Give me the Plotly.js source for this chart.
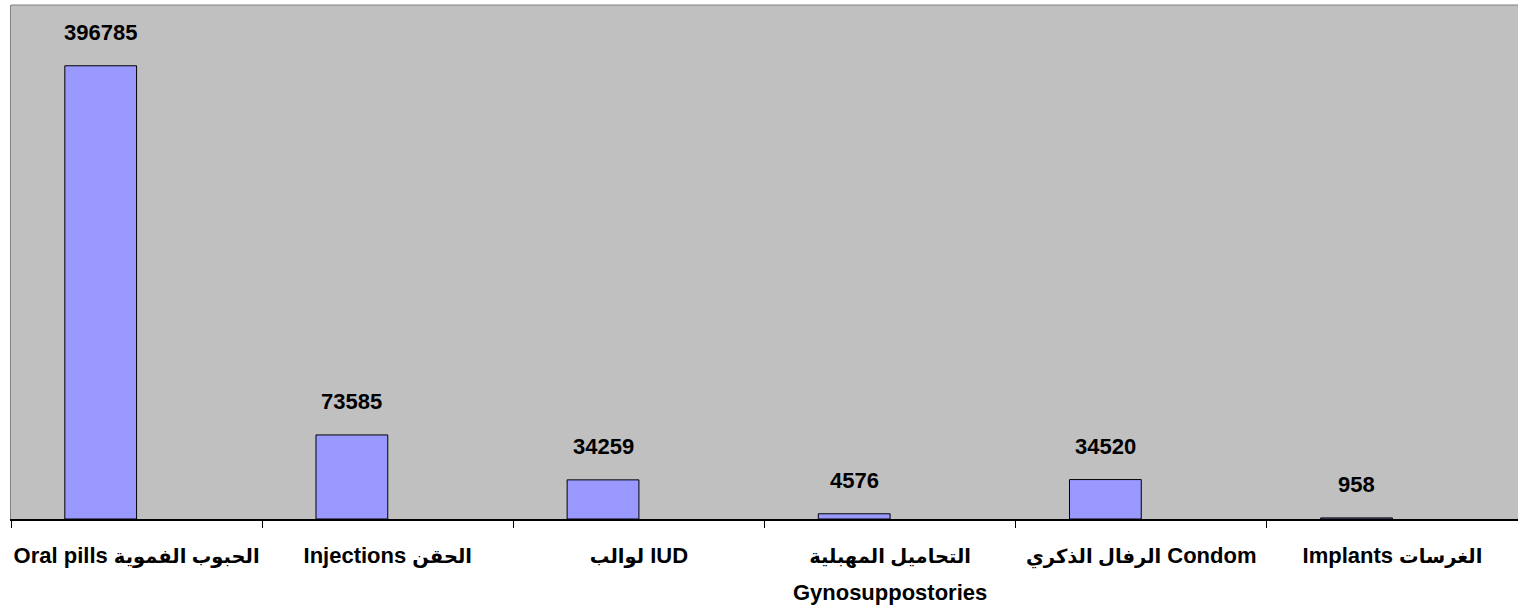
<!DOCTYPE html>
<html>
<head>
<meta charset="utf-8">
<script src="https://cdn.plot.ly/plotly-3.0.1.min.js"></script>
<style>
  html, body { margin: 0; padding: 0; background: #ffffff; }
  #chart { width: 1518px; height: 611px; }
</style>
</head>
<body>
<div id="chart"></div>
<script>
// Categories (tick labels, as shown under the axis)
const categories = [
  "Oral pills الحبوب الفموية",
  "Injections الحقن",
  "لوالب IUD",
  "التحاميل المهبلية<br>Gynosuppostories",
  "الرفال الذكري Condom",
  "Implants الغرسات"
];
// Series values
const values = [396785, 73585, 34259, 4576, 34520, 958];
// Data labels
const valueLabels = ["396785", "73585", "34259", "4576", "34520", "958"];

const FONT = "Liberation Sans, Arial, DejaVu Sans, sans-serif";
const barWidth = 1 / 3.5;        // clustered bar (gap width 150%, 2 series slots)
const barOffset = -barWidth;     // first slot of the cluster

// Tick text: Latin glyphs at 22px, Arabic (fallback font is wider) at 19.5px;
// the line pitch comes from the larger base tick font size.
function styleLine(line) {
  const parts = line.split(/([\u0600-\u06FF]+(?:\s+[\u0600-\u06FF]+)*)/);
  return parts.filter(p => p.length).map(p =>
    /[\u0600-\u06FF]/.test(p)
      ? '<span style="font-size:19.5px">' + p + '</span>'
      : '<span style="font-size:22px">' + p + '</span>'
  ).join("");
}
const tickText = categories.map(c => c.split("<br>").map(styleLine).join("<br>"));

const trace = {
  type: "bar",
  x: categories,
  y: values,
  width: barWidth,
  offset: barOffset,
  marker: { color: "#9999FF", line: { color: "#000000", width: 1 } },
  hoverinfo: "x+y",
  showlegend: false
};

const annotations = values.map((v, i) => ({
  x: i + barOffset + barWidth / 2,
  xref: "x",
  y: v,
  yref: "y",
  text: valueLabels[i],
  showarrow: false,
  yanchor: "middle",
  xanchor: "center",
  yshift: 33,
  font: { family: FONT, size: 22, color: "#000000", weight: 700 }
}));

const layout = {
  width: 1518,
  height: 611,
  margin: { l: 11, r: 0, t: 5, b: 92, pad: 0 },
  paper_bgcolor: "#ffffff",
  plot_bgcolor: "#C0C0C0",
  bargap: 0,
  xaxis: {
    type: "category",
    range: [-0.5, 5.5],
    showline: true,
    linecolor: "#000000",
    linewidth: 1.5,
    ticks: "outside",
    tickson: "boundaries",
    ticklen: 7,
    tickcolor: "#000000",
    tickwidth: 1,
    tickangle: 0,
    tickmode: "array",
    tickvals: categories,
    ticktext: tickText,
    ticklabelstandoff: 9,
    showgrid: false,
    zeroline: false,
    automargin: false,
    tickfont: { family: FONT, size: 28, color: "#000000", weight: 700 }
  },
  yaxis: {
    range: [0, 450000],
    showline: true,
    linecolor: "#808080",
    linewidth: 1,
    showticklabels: false,
    ticks: "",
    showgrid: false,
    zeroline: false
  },
  shapes: [{
    type: "line", xref: "paper", yref: "paper",
    x0: 0, x1: 1, y0: 1, y1: 1,
    line: { color: "#808080", width: 1 }
  }],
  annotations: annotations
};

Plotly.newPlot("chart", [trace], layout, { displayModeBar: false, staticPlot: true });
</script>
</body>
</html>
